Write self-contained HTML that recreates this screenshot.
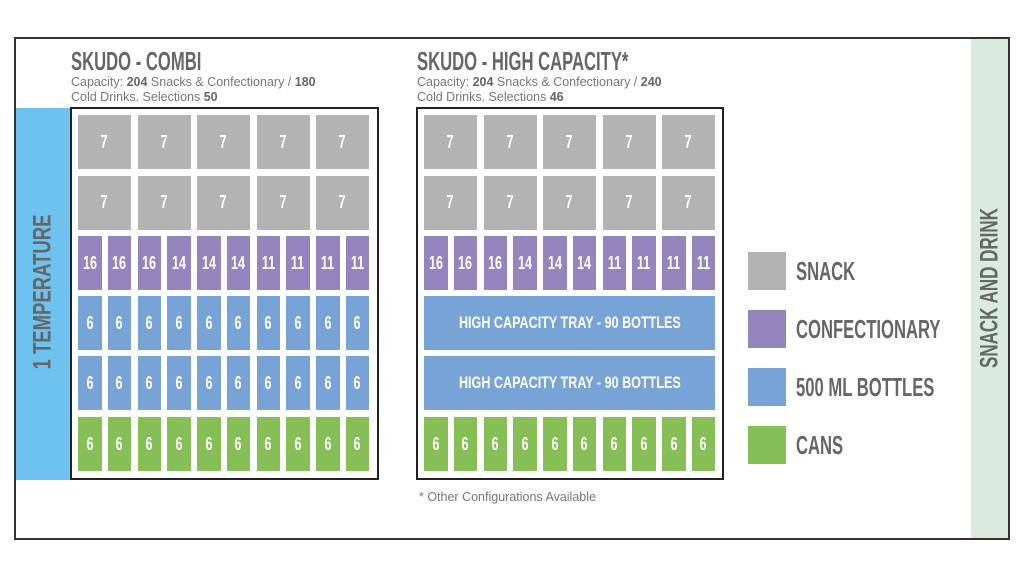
<!DOCTYPE html>
<html><head><meta charset="utf-8"><style>
*{margin:0;padding:0;box-sizing:border-box}
body{width:1024px;height:576px;background:#fff;position:relative;overflow:hidden;font-family:"Liberation Sans",sans-serif}
.a{position:absolute}
.c{position:absolute;color:#fff;display:flex;align-items:center;justify-content:center;font-family:"Liberation Sans",sans-serif;font-weight:bold;font-size:18px;white-space:nowrap}
.c span{display:inline-block;transform:scaleX(0.7)}
.g{background:#b3b3b3}.p{background:#9585bf}.b{background:#77a3d7}.n{background:#86bf55}
.t{font-family:"Liberation Sans",sans-serif;font-weight:bold;color:#666;white-space:nowrap}
.h{transform:scaleX(0.64);transform-origin:0 0}
.s{font-size:12.5px;color:#777;line-height:15px;white-space:nowrap}
.s b{color:#666}
</style></head><body>
<div class="a" style="left:14px;top:37px;width:996px;height:503px;border:2px solid #333"></div>
<div class="a" style="left:971px;top:39px;width:37px;height:499px;background:#d9eade"></div>
<div class="a t" style="left:990px;top:288px;font-size:25px;transform:translate(-50%,-50%) rotate(-90deg) scaleX(0.68)">SNACK AND DRINK</div>
<div class="a" style="left:16px;top:108px;width:54px;height:372px;background:#6dc2ef"></div>
<div class="a t" style="left:43px;top:292px;font-size:25px;color:#666;transform:translate(-50%,-50%) rotate(-90deg) scaleX(0.74)">1 TEMPERATURE</div>

<div class="a t h" style="left:71px;top:46px;font-size:26px">SKUDO - COMBI</div>
<div class="a s" style="left:71px;top:75px">Capacity: <b>204</b> Snacks &amp; Confectionary / <b>180</b><br>Cold Drinks. Selections <b>50</b></div>
<div class="a t h" style="left:417px;top:46px;font-size:26px">SKUDO - HIGH CAPACITY*</div>
<div class="a s" style="left:417px;top:75px">Capacity: <b>204</b> Snacks &amp; Confectionary / <b>240</b><br>Cold Drinks. Selections <b>46</b></div>
<div class="a s" style="left:419px;top:490px">* Other Configurations Available</div>

<div class="a" style="left:70px;top:107px;width:309px;height:373px;border:2px solid #222"></div>
<div class="a" style="left:416px;top:107px;width:308px;height:373px;border:2px solid #222"></div>

<div class="a" style="left:748px;top:252px;width:38px;height:38px;background:#b3b3b3"></div>
<div class="a" style="left:748px;top:310px;width:38px;height:38px;background:#9585bf"></div>
<div class="a" style="left:748px;top:368px;width:38px;height:38px;background:#77a3d7"></div>
<div class="a" style="left:748px;top:426px;width:38px;height:38px;background:#86bf55"></div>
<div class="a t h" style="left:796px;top:256px;font-size:26px">SNACK</div>
<div class="a t h" style="left:796px;top:314px;font-size:26px">CONFECTIONARY</div>
<div class="a t h" style="left:796px;top:372px;font-size:26px">500 ML BOTTLES</div>
<div class="a t h" style="left:796px;top:430px;font-size:26px">CANS</div>
<div id="cells"></div>
<script>
var h='',xs=[78,137.5,197,256.5,316],ys=[115,175.5,236,296,356,417];
function cab(off,rows){
 rows.forEach(function(r,i){var y=ys[i];
  if(r[0]=='w'){xs.forEach(function(x){h+='<div class="c g" style="left:'+(x+off)+'px;top:'+y+'px;width:53px;height:54px"><span>7</span></div>'});}
  else if(r[0]=='T'){h+='<div class="c b" style="left:'+(78+off)+'px;top:'+y+'px;width:291px;height:54px;font-size:17px"><span style="transform:scaleX(0.74)">HIGH CAPACITY TRAY - 90 BOTTLES</span></div>';}
  else{xs.forEach(function(x,j){[0,29.5].forEach(function(d,k){h+='<div class="c '+r[0]+'" style="left:'+(x+d+off)+'px;top:'+y+'px;width:23.5px;height:54px"><span>'+r[1][j*2+k]+'</span></div>'});});}
 });
}
var pr=['p',[16,16,16,14,14,14,11,11,11,11]],six=[6,6,6,6,6,6,6,6,6,6];
cab(0,[['w'],['w'],pr,['b',six],['b',six],['n',six]]);
cab(346,[['w'],['w'],pr,['T'],['T'],['n',six]]);
document.getElementById('cells').innerHTML=h;
</script>
</body></html>
